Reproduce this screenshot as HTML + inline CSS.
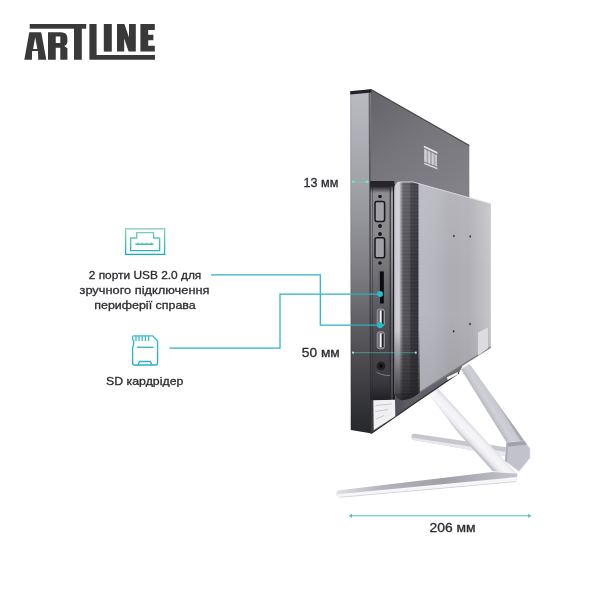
<!DOCTYPE html>
<html>
<head>
<meta charset="utf-8">
<style>
html,body{margin:0;padding:0;background:#fff;}
body{width:600px;height:600px;overflow:hidden;position:relative;font-family:"Liberation Sans",sans-serif;}
svg{position:absolute;left:0;top:0;display:block;}
text{font-family:"Liberation Sans",sans-serif;fill:#2c2c32;stroke:#2c2c32;stroke-width:0.3px;}
</style>
</head>
<body>
<svg width="600" height="600" viewBox="0 0 600 600">
<defs>
  <linearGradient id="gIcon" x1="0" y1="228" x2="0" y2="255" gradientUnits="userSpaceOnUse">
    <stop offset="0" stop-color="#86d4b2"/>
    <stop offset="1" stop-color="#25a7c8"/>
  </linearGradient>
  <linearGradient id="gIcon2" x1="0" y1="335" x2="0" y2="366" gradientUnits="userSpaceOnUse">
    <stop offset="0" stop-color="#3cc0c4"/>
    <stop offset="1" stop-color="#2aaccb"/>
  </linearGradient>
  <linearGradient id="gSide" x1="0" y1="91" x2="0" y2="432" gradientUnits="userSpaceOnUse">
    <stop offset="0" stop-color="#babac2"/>
    <stop offset="0.073" stop-color="#b4b4bc"/>
    <stop offset="0.32" stop-color="#9c9ca3"/>
    <stop offset="0.525" stop-color="#7e7e84"/>
    <stop offset="0.73" stop-color="#55555a"/>
    <stop offset="0.953" stop-color="#2e2f33"/>
    <stop offset="1" stop-color="#28282c"/>
  </linearGradient>
  <linearGradient id="gBack" x1="371" y1="95" x2="450" y2="200" gradientUnits="userSpaceOnUse">
    <stop offset="0" stop-color="#64646a"/>
    <stop offset="0.45" stop-color="#75757b"/>
    <stop offset="1" stop-color="#828288"/>
  </linearGradient>
  <linearGradient id="gCol" x1="0" y1="186" x2="0" y2="400" gradientUnits="userSpaceOnUse">
    <stop offset="0" stop-color="#8e8e92"/>
    <stop offset="0.23" stop-color="#8a8a8e"/>
    <stop offset="0.39" stop-color="#747478"/>
    <stop offset="0.58" stop-color="#58585e"/>
    <stop offset="0.72" stop-color="#48484e"/>
    <stop offset="0.84" stop-color="#404046"/>
    <stop offset="0.93" stop-color="#36363c"/>
    <stop offset="0.98" stop-color="#26262a"/>
    <stop offset="1" stop-color="#202024"/>
  </linearGradient>
  <linearGradient id="gBoxV" x1="0" y1="182" x2="0" y2="400" gradientUnits="userSpaceOnUse">
    <stop offset="0" stop-color="#ffffff" stop-opacity="0.10"/>
    <stop offset="0.4" stop-color="#ffffff" stop-opacity="0"/>
    <stop offset="0.6" stop-color="#000000" stop-opacity="0"/>
    <stop offset="1" stop-color="#000000" stop-opacity="0.08"/>
  </linearGradient>
  <linearGradient id="gBox" x1="393.8" y1="0" x2="491" y2="0" gradientUnits="userSpaceOnUse">
    <stop offset="0" stop-color="#c4c4cc"/>
    <stop offset="0.055" stop-color="#d0d0d8"/>
    <stop offset="0.085" stop-color="#74747a"/>
    <stop offset="0.10" stop-color="#56565c"/>
    <stop offset="0.16" stop-color="#545458"/>
    <stop offset="0.177" stop-color="#38383e"/>
    <stop offset="0.244" stop-color="#34343a"/>
    <stop offset="0.264" stop-color="#b8b8c0"/>
    <stop offset="0.41" stop-color="#b6b6be"/>
    <stop offset="0.58" stop-color="#adadb2"/>
    <stop offset="0.78" stop-color="#b0b0b6"/>
    <stop offset="0.97" stop-color="#c4c4c8"/>
    <stop offset="1" stop-color="#c4c4c8"/>
  </linearGradient>
  <linearGradient id="gLegF" x1="455.8" y1="430" x2="466.3" y2="420" gradientUnits="userSpaceOnUse">
    <stop offset="0" stop-color="#c2c2ca"/>
    <stop offset="0.18" stop-color="#e6e6ec"/>
    <stop offset="0.45" stop-color="#f6f6f9"/>
    <stop offset="0.8" stop-color="#f2f2f6"/>
    <stop offset="1" stop-color="#dedee4"/>
  </linearGradient>
  <linearGradient id="gLegB" x1="494" y1="425" x2="506.7" y2="417.1" gradientUnits="userSpaceOnUse">
    <stop offset="0" stop-color="#b4b4bc"/>
    <stop offset="0.45" stop-color="#d0d0d8"/>
    <stop offset="0.9" stop-color="#c8c8d0"/>
    <stop offset="1" stop-color="#a8a8b0"/>
  </linearGradient>
  <linearGradient id="gBot" x1="380" y1="0" x2="460" y2="0" gradientUnits="userSpaceOnUse">
    <stop offset="0" stop-color="#3a3a3e"/>
    <stop offset="0.2" stop-color="#505056"/>
    <stop offset="0.4" stop-color="#5e5e64"/>
    <stop offset="1" stop-color="#6a6a70"/>
  </linearGradient>
  <linearGradient id="gBase" x1="336" y1="0" x2="517" y2="0" gradientUnits="userSpaceOnUse">
    <stop offset="0" stop-color="#e0e0e6"/>
    <stop offset="0.25" stop-color="#b4b4bc"/>
    <stop offset="0.6" stop-color="#a0a0a8"/>
    <stop offset="1" stop-color="#c4c4cc"/>
  </linearGradient>
  <filter id="fNo" x="-5%" y="-5%" width="110%" height="110%"><feOffset dx="0" dy="0"/></filter>
  <linearGradient id="gBoxFade" x1="0" y1="330" x2="0" y2="402" gradientUnits="userSpaceOnUse">
    <stop offset="0" stop-color="#28282c" stop-opacity="0"/>
    <stop offset="0.6" stop-color="#28282c" stop-opacity="0.55"/>
    <stop offset="1" stop-color="#202024" stop-opacity="0.85"/>
  </linearGradient>
  <pattern id="pBrush" x="0" y="0" width="30" height="7" patternUnits="userSpaceOnUse">
    <rect x="0" y="0" width="30" height="1" fill="#fff" opacity="0.07"/>
    <rect x="0" y="2" width="30" height="1" fill="#000" opacity="0.22"/>
    <rect x="0" y="4" width="30" height="1" fill="#fff" opacity="0.04"/>
    <rect x="0" y="5.5" width="30" height="1" fill="#000" opacity="0.16"/>
  </pattern>
  <linearGradient id="gColTop" x1="0" y1="187" x2="0" y2="193" gradientUnits="userSpaceOnUse">
    <stop offset="0" stop-color="#26262a" stop-opacity="0.9"/>
    <stop offset="1" stop-color="#26262a" stop-opacity="0"/>
  </linearGradient>
</defs>

<!-- ===== ARTLINE logo ===== -->
<g fill="#39393a">
  <rect x="29.7" y="24" width="56.5" height="4.7"/>
  <path d="M29.3 32.25 H41.2 L46.3 59.75 H38.2 L38 51 H32.1 L31.9 59.75 H24.3 Z M35.2 37.25 L37.4 48.9 H33.1 Z" fill-rule="evenodd"/>
  <path d="M48 32.25 H61 Q67.4 32.25 67.4 38.5 V41 Q67.4 45 64.2 46 L67.4 48.3 V59.75 H60.3 V47.8 H55.75 V59.75 H48 Z M55.75 36.4 H60.3 V43.1 H55.75 Z" fill-rule="evenodd"/>
  <rect x="74" y="28" width="7.8" height="31.75"/>
  <path d="M89.4 24 H96.6 V55 H155 V59.8 H89.4 Z"/>
  <rect x="103.8" y="24" width="8" height="27.6"/>
  <path d="M117 24 H124.4 L129 37.5 V24 H135.8 V51.6 H128.6 L124.2 38.5 V51.6 H117 Z"/>
  <path d="M140.4 24 H154.8 V30 H148.2 V34.8 H153.4 V40.2 H148.2 V45.8 H154.8 V51.6 H140.4 Z"/>
</g>

<!-- ===== USB icon ===== -->
<g fill="none" stroke="url(#gIcon)" stroke-width="1.4">
  <rect x="125.6" y="228.8" width="39" height="25.6"/>
  <path d="M130.6 250.6 V238 H136.6 V232.6 H153.6 V238 H159.6 V250.6 Z"/>
  <path d="M135.3 244.2 H153.5 M137.8 244 V242.8 M142.3 244 V242.8 M146.7 244 V242.8 M151.1 244 V242.8" stroke-width="1.5"/>
</g>
<!-- ===== SD icon ===== -->
<g fill="none" stroke="url(#gIcon2)" stroke-width="1.35" stroke-linejoin="round">
  <path d="M133.5 335.8 H152.5 L157.6 341 V363 Q157.6 365 155.6 365 H134.5 Q132.6 365 132.6 363 V347.5 L133.6 344.5 V340.5 L132.6 339.5 V336.8 Q132.6 335.8 133.5 335.8 Z"/>
  <path d="M136 336 V341 M139 336 V341 M142.2 336 V341 M145.4 336 V341 M148.6 336 V341"/>
  <path d="M137 347.3 H153.5"/>
  <path d="M138 365 L139.5 361.5 H150.5 L152 365"/>
</g>

<!-- ===== texts ===== -->
<g font-size="11.3px" text-anchor="middle" filter="url(#fNo)" style="fill:#3a3a40;stroke:#3a3a40;stroke-width:0.22px">
  <text x="145" y="279.2" textLength="112.5" lengthAdjust="spacingAndGlyphs">2 порти USB 2.0 для</text>
  <text x="144.5" y="293.9" textLength="130" lengthAdjust="spacingAndGlyphs">зручного підключення</text>
  <text x="145" y="308.5" textLength="101.5" lengthAdjust="spacingAndGlyphs">периферії справа</text>
  <text x="144.7" y="384.6" textLength="77.3" lengthAdjust="spacingAndGlyphs">SD кардрідер</text>
</g>
<g font-size="12px" filter="url(#fNo)">
  <text x="303.5" y="186.5" textLength="35" lengthAdjust="spacingAndGlyphs">13 мм</text>
  <text x="301.8" y="357.2" textLength="38" lengthAdjust="spacingAndGlyphs">50 мм</text>
  <text x="429.5" y="532" textLength="46" lengthAdjust="spacingAndGlyphs">206 мм</text>
</g>

<!-- ===== device ===== -->
<!-- stand back bar -->
<path d="M411.5 436.5 Q411.5 433.2 415 433.8 L508 447.5 L505 456 L414 440 Q411.5 439.5 411.5 436.5 Z" fill="#c6c6ce"/>
<path d="M412 437.8 L506.5 452 L505 456 L414 440 Z" fill="#e8e8ee"/>
<!-- back leg -->
<path d="M461 369.3 L469.7 364 L524.5 441 L506.5 442.5 Z" fill="url(#gLegB)"/>
<!-- connector -->
<path d="M506.5 442.5 L524.5 441 L530 448.5 L530 458 L519 471.5 L505 461 Z" fill="#c2c2cc" stroke="#e2e2ea" stroke-width="0.8"/>
<path d="M506.5 442.5 L524.5 441 L527 444.6 L508 446.8 Z" fill="#a2a2ac"/>
<path d="M506.5 442.5 L508 446.8 L507 462 L505 461 Z" fill="#acacb6"/>
<!-- base front bar -->
<path d="M336.3 493.5 Q336.3 490.6 339.5 490.2 L492.5 472 L517.5 473.5 L516 481.6 L340 497.3 Q336.3 497.3 336.3 493.5 Z" fill="url(#gBase)"/>
<path d="M337 494.2 L517 477 L516 481.6 L340 497.3 Q337 497 337 494.2 Z" fill="#f6f6f9"/>
<path d="M340 497.3 L516 481.6" stroke="#c8c8d0" stroke-width="0.6" fill="none"/>
<!-- front leg -->
<path d="M426.3 391.3 L436.3 386.7 L516 473 L492.7 471.3 L455.8 430 Z" fill="url(#gLegF)"/>

<!-- monitor back panel -->
<path d="M370.3 89 L469.3 145.5 V200 L370.3 186 Z" fill="url(#gBack)"/>
<path d="M371 89.5 L469.3 145.5" stroke="#46464a" stroke-width="1.2" fill="none"/>
<!-- monitor side strip -->
<path d="M350.2 91 L370.6 89.3 L372 433.6 L350.8 430 Z" fill="url(#gSide)"/>
<path d="M368.6 89.6 L370.6 89.3 L372 433.6 L370.2 433.3 Z" fill="#101014" opacity="0.5"/>
<path d="M350.2 93 L351.2 93 L351.8 430.2 L350.8 430 Z" fill="#000" opacity="0.10"/>
<path d="M350.2 91.2 L371 89.2 L371.6 92.4 L350.3 94.4 Z" fill="#222226"/>
<!-- bottom panel of monitor -->
<path d="M370.5 433.5 L415 403 L459 373 L462 367 L462 350 L370.5 350 Z" fill="url(#gBot)"/>
<path d="M371.5 433.2 L415 403 L459 373" stroke="#2c2c30" stroke-width="1.3" fill="none"/>
<!-- port column -->
<rect x="370" y="181" width="24.5" height="219" fill="url(#gCol)"/>
<rect x="370" y="181" width="24.5" height="6" fill="#26262a"/>
<rect x="370" y="187" width="24.5" height="6" fill="url(#gColTop)"/>
<rect x="370" y="186" width="1" height="214" fill="#2c2c30" opacity="0.55"/>
<rect x="372" y="186" width="1" height="214" fill="#2c2c30" opacity="0.45"/>
<rect x="389.6" y="186" width="1.3" height="214" fill="#2a2a2e" opacity="0.8"/>
<rect x="391" y="186" width="2" height="214" fill="#ffffff" opacity="0.12"/>
<rect x="393" y="184" width="1.6" height="216" fill="#1c1c20"/>
<!-- box -->
<path id="boxp" d="M400.5 182 Q394.3 182 394.3 189 V390 Q394.3 399.2 401 400.2 Q409.5 400.3 417.7 394 L428.7 387.1 L490.8 348 V203.7 L413 182 Z" fill="url(#gBox)"/>
<path d="M400.5 182 Q394.3 182 394.3 189 V390 Q394.3 399.2 401 400.2 Q409.5 400.3 417.7 394 L428.7 387.1 L490.8 348 V203.7 L413 182 Z" fill="url(#gBoxV)"/>
<clipPath id="cBox"><path d="M400.5 182 Q394.3 182 394.3 189 V390 Q394.3 399.2 401 400.2 Q409.5 400.3 417.7 394 L428.7 387.1 L490.8 348 V203.7 L413 182 Z"/></clipPath>
<g clip-path="url(#cBox)">
  <rect x="394" y="330" width="26" height="72" fill="url(#gBoxFade)"/>
  <rect x="400.5" y="182" width="18.5" height="220" fill="url(#pBrush)" opacity="0.3"/>
  <path d="M394 402 L394 394 L419 392 L491 346 L491 352 L430 392 L419 402 Z" fill="#202024" opacity="0.35"/>
</g>
<path d="M397 182.8 Q399 182 401 182 L413 182 L490.8 203.7" fill="none" stroke="#dcdce2" stroke-width="0.9"/>
<g fill="#3a3a40"><ellipse cx="453.9" cy="236" rx="0.8" ry="1.3"/><ellipse cx="470.2" cy="236.5" rx="0.8" ry="1.3"/>
<ellipse cx="453.7" cy="331.3" rx="0.8" ry="1.3"/><ellipse cx="470" cy="324" rx="0.8" ry="1.3"/></g>
<!-- bracket -->
<path d="M447 377.3 L457.7 372 L458 374.5 L447.5 380 Z" fill="#f0f0f4"/>

<!-- ports -->
<g fill="#a0a0a6" stroke="#18181c" stroke-width="1.5">
  <rect x="375" y="201.4" width="9.6" height="20" rx="1.8"/>
  <rect x="375" y="237.8" width="9.6" height="20" rx="1.8"/>
</g>
<g fill="#16161a">
  <circle cx="380" cy="196.5" r="1.8"/><circle cx="380" cy="226" r="1.9"/>
  <circle cx="380" cy="234" r="1.9"/><circle cx="380" cy="263" r="1.8"/>
</g>
<rect x="378.5" y="271" width="5.3" height="32.5" fill="#5c5c62"/>
<rect x="380" y="271.5" width="3.8" height="32" fill="#0c0c10"/>
<g fill="#6c6c72" stroke="#a8a8ae" stroke-width="0.8">
<rect x="377.2" y="309" width="7.2" height="17" rx="2.2"/>
<rect x="377.2" y="331.8" width="7.2" height="17" rx="2.2"/></g>
<rect x="379.8" y="310.5" width="1.8" height="14" fill="#f4f4f6"/>
<rect x="379.8" y="333.3" width="1.8" height="14" fill="#f4f4f6"/>
<rect x="381.9" y="311" width="1.5" height="13" fill="#202024"/>
<rect x="381.9" y="334" width="1.5" height="13" fill="#202024"/>
<circle cx="381" cy="366" r="4.4" fill="#222226"/>
<circle cx="381" cy="366" r="1.7" fill="#050506"/>
<path d="M376.5 372 Q381 375.5 390 375.5" stroke="#8a8a90" stroke-width="0.8" fill="none"/>

<!-- stickers -->
<path d="M373.3 400.3 L395 399.7 L395.3 416.3 L373.7 430.3 Z" fill="#f0f0f2"/>
<path d="M375.5 405.5 L392 404 M375.5 411.5 L388 409.5 M376 419 L384 415.5" stroke="#c4c4c8" stroke-width="0.9" fill="none"/>
<path d="M478 332.5 L488 327.5 V348.3 L478 355.8 Z" fill="#dcdce0"/>

<!-- small logo on back -->
<g fill="#eeeef2">
<path d="M423.9 145.5 L437.4 152 V153.9 L423.9 147.4 Z" opacity="0.9"/>
<path d="M424.2 148.8 L436.9 154.9 V166.6 L424.2 161.6 Z" opacity="0.42"/>
<path d="M424.2 148.8 L426.6 150 V162.6 L424.2 161.6 Z M428.2 150.8 L430 151.6 V163.9 L428.2 163.2 Z M432 152.6 L433.6 153.4 V165.3 L432 164.7 Z M435.4 154.2 L436.9 154.9 V166.6 L435.4 166 Z" opacity="0.55"/>
<path d="M424.2 162.4 L437.4 167.8 V169.5 L430.5 166.7 L424.2 164.2 Z" opacity="0.75"/>
</g>

<!-- ===== teal lines ===== -->
<g fill="none" stroke="#2bb2c4" stroke-width="1.25">
  <path d="M211 274.8 H320.3 V325.1 H379"/>
  <path d="M169.5 348.2 H280 V294.2 H379"/>
</g>
<circle cx="380" cy="294.1" r="3" fill="#22bccb"/>
<circle cx="380" cy="325.3" r="3" fill="#22bccb"/>
<path d="M351.5 181.8 H369.5" stroke="#6fe0c4" stroke-width="1" opacity="0.55"/>
<circle cx="353.3" cy="181.8" r="1.5" fill="#6fe8c8" opacity="0.9"/><circle cx="367" cy="181.8" r="1.5" fill="#6fe8c8" opacity="0.9"/>
<path d="M352 352.7 H416.5" stroke="#5cc4c0" stroke-width="0.9" opacity="0.6"/>
<circle cx="353" cy="352.7" r="1.1" fill="#b0ece4" opacity="0.9"/><circle cx="415.8" cy="352.7" r="1.1" fill="#b0ece4" opacity="0.9"/>
<path d="M351 515.8 H529" stroke="#4fc0c0" stroke-width="1"/>
<path d="M352 513.7 L348.8 515.8 L352 517.9 Z M528.2 513.7 L531.4 515.8 L528.2 517.9 Z" fill="#4fc0c0"/>
</svg>
</body>
</html>
